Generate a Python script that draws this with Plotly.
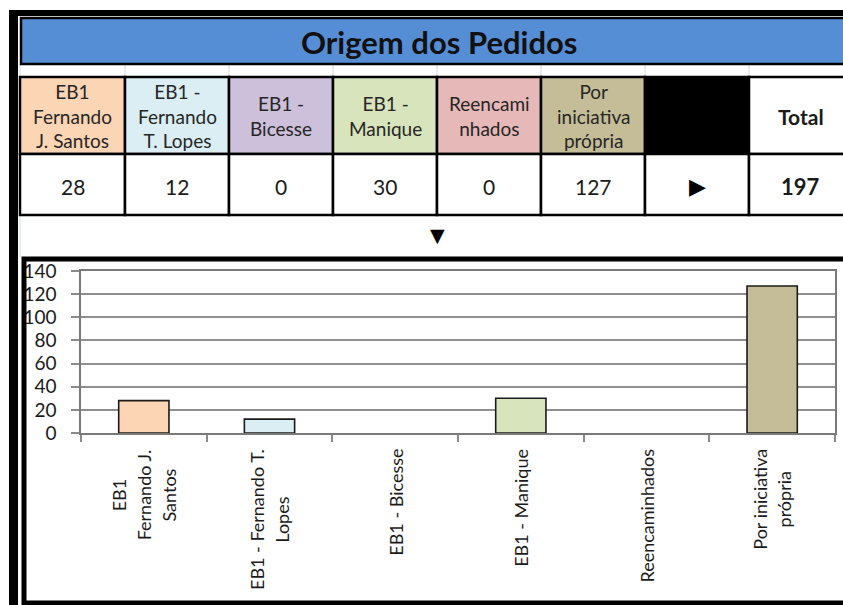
import plotly.graph_objects as go

# ---------------- data ----------------
categories = ["EB1 Fernando J. Santos", "EB1 - Fernando T. Lopes", "EB1 - Bicesse",
              "EB1 - Manique", "Reencaminhados", "Por iniciativa própria"]
header_labels = ["EB1<br>Fernando<br>J. Santos", "EB1 -<br>Fernando<br>T. Lopes", "EB1 -<br>Bicesse",
                 "EB1 -<br>Manique", "Reencami<br>nhados", "Por<br>iniciativa<br>própria"]
axis_labels = ["EB1<br>Fernando J.<br>Santos", "EB1 - Fernando T.<br>Lopes", "EB1 - Bicesse",
               "EB1 - Manique", "Reencaminhados", "Por iniciativa<br>própria"]
values = [28, 12, 0, 30, 0, 127]
colors = ["#FCD5B4", "#DAEEF3", "#CCC0DA", "#D8E4BC", "#E6B8B7", "#C4BD97"]
title_text = "Origem dos Pedidos"
total_label = "Total"
y_ticks = [0, 20, 40, 60, 80, 100, 120, 140]

W, H = 843, 605
FONT = "Lato, 'Open Sans', sans-serif"
TXT = "#1b1b1b"


def X(px):
    return px / W


def Y(py):
    return 1 - py / H


def spaced(text, inner):
    return "<br>".join(f"<span style='font-size:{inner}px'>{l}</span>" for l in text.split("<br>"))


shapes = []
annotations = []


def rect(x0, y0, x1, y1, fill=None, lw=0, lc="black", layer="below"):
    shapes.append(dict(type="rect", xref="paper", yref="paper",
                       x0=X(x0), x1=X(x1), y0=Y(y1), y1=Y(y0),
                       fillcolor=fill if fill else "rgba(0,0,0,0)",
                       line=dict(width=lw, color=lc), layer=layer))


def line(x0, y0, x1, y1, lw=1, lc="black", layer="below"):
    shapes.append(dict(type="line", xref="paper", yref="paper",
                       x0=X(x0), x1=X(x1), y0=Y(y0), y1=Y(y1),
                       line=dict(width=lw, color=lc), layer=layer))


def text(x, y, s, size=17, family=FONT, color=TXT):
    annotations.append(dict(xref="paper", yref="paper", x=X(x), y=Y(y), text=s,
                            showarrow=False, xanchor="center", yanchor="middle",
                            align="center", font=dict(size=size, family=family, color=color)))


# faint spreadsheet gridlines
col_x = [20, 125, 229, 333, 437, 541, 645, 749, 860]
for cx in col_x[1:-1]:
    line(cx, 64, cx, 77, lw=1, lc="#DADADA")
line(20, 64, 20, 257, lw=1, lc="#D0DAEA")

# outer frame (thick black)
rect(9, 10, 18, 605, fill="black")
rect(9, 10, 860, 16, fill="black")

# title bar
rect(21, 18, 860, 64, fill="#558ED5", lw=2.5, lc="black")
text(439, 42, f"<b>{title_text}</b>", size=31, color="#111111")

# table
hdr_top, hdr_bot, val_bot = 77, 154, 215
for i in range(8):
    x0, x1 = col_x[i], col_x[i + 1]
    if i < 6:
        fill = colors[i]
    elif i == 6:
        fill = "black"
    else:
        fill = "white"
    rect(x0, hdr_top, x1, hdr_bot, fill=fill, lw=2.5)
    rect(x0, hdr_bot, x1, val_bot, fill="white", lw=2.5)

for i in range(6):
    cx = (col_x[i] + col_x[i + 1]) / 2
    text(cx, (hdr_top + hdr_bot) / 2 + 1, header_labels[i], size=19, color="#262626")
    text(cx, 186, str(values[i]), size=21)

text((col_x[6] + col_x[7]) / 2, 186, "▶", size=22, family="DejaVu Sans", color="black")
text((col_x[7] + 852) / 2, 117, f"<b>{total_label}</b>", size=21)
text((col_x[7] + 852) / 2, 186, f"<b>{sum(values)}</b>", size=22)
text(437, 235, "▼", size=19, family="DejaVu Sans", color="black")

# chart frame
rect(24, 259, 862, 603, fill=None, lw=5, lc="black", layer="above")

# ---------------- bar chart ----------------
fig = go.Figure()
fig.add_trace(go.Bar(
    x=categories, y=values, width=0.4,
    marker=dict(color=colors,
                line=dict(color="#1a1a1a", width=[1.6 if v > 0 else 0 for v in values])),
    hoverinfo="x+y",
))

for cat, lab in zip(categories, axis_labels):
    annotations.append(dict(xref="x", yref="paper", x=cat, y=Y(447), text=spaced(lab, 18),
                            showarrow=False, textangle=-90, xanchor="center", yanchor="top",
                            align="center", font=dict(size=19, family=FONT, color=TXT)))

fig.update_layout(
    width=W, height=H, autosize=False,
    margin=dict(l=0, r=0, t=0, b=0, pad=0, autoexpand=False),
    paper_bgcolor="white", plot_bgcolor="white",
    showlegend=False, bargap=0.6,
    shapes=shapes, annotations=annotations,
    xaxis=dict(domain=[X(81), X(835)], showticklabels=False, tickson="boundaries",
               automargin=False,
               ticks="outside", ticklen=7, tickcolor="#8a8a8a", tickwidth=1.5,
               showline=True, linecolor="#7a7a7a", linewidth=1.5, mirror=True,
               showgrid=False, fixedrange=True),
    yaxis=dict(domain=[Y(433), Y(271)], range=[0, 140], tickvals=y_ticks,
               automargin=False,
               ticks="outside", ticklen=8, tickcolor="#8a8a8a", tickwidth=1.5,
               ticklabelstandoff=11,
               showline=True, linecolor="#7a7a7a", linewidth=1.5, mirror=True,
               showgrid=True, gridcolor="#8f8f8f", gridwidth=1.5, zeroline=False,
               tickfont=dict(size=19, family=FONT, color=TXT), fixedrange=True),
)

fig.write_html(
    "out.html",
    config={"displayModeBar": False},
    post_script=("document.body.style.margin='0';"
                 "var g=document.getElementById('{plot_id}');"
                 "g.style.position='absolute';g.style.left='0px';g.style.top='0px';"),
)
